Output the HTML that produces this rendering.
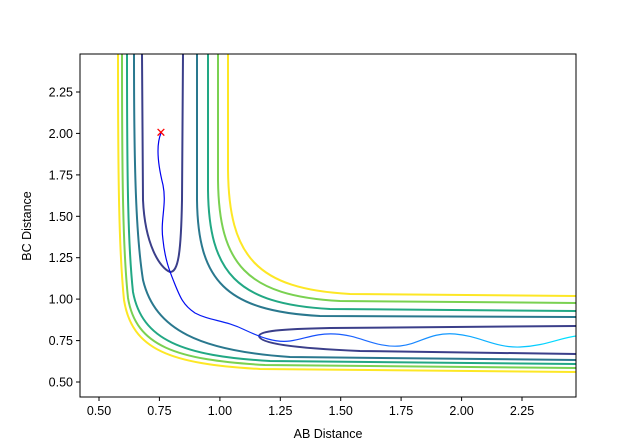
<!DOCTYPE html><html><head><style>body{margin:0;background:#fff}svg{display:block}text{font-family:"Liberation Sans","DejaVu Sans",sans-serif;font-size:12.5px;fill:#000}</style></head><body>
<svg width="640" height="447" viewBox="0 0 640 447" xmlns="http://www.w3.org/2000/svg">
<defs><linearGradient id="g" x1="160" y1="0" x2="576" y2="0" gradientUnits="userSpaceOnUse"><stop offset="0" stop-color="#0000ee"/><stop offset="0.5" stop-color="#1e6cff"/><stop offset="1" stop-color="#00e5ff"/></linearGradient>
<clipPath id="c"><rect x="80" y="54" width="496" height="343"/></clipPath></defs>
<g clip-path="url(#c)" fill="none" stroke-width="2">
<path d="M118 54 C118 180 119 250 124 300 C132 350 170 364 260 369 L576 372" stroke="#fde725"/>
<path d="M122 54 C122 180 123 250 128 298 C136 346 175 360 265 365 L576 368" stroke="#7ad151"/>
<path d="M127 54 C127 180 128 245 133 292 C142 340 182 356 270 361 L576 364" stroke="#22a884"/>
<path d="M134 54 C134 170 136 235 143 280 C155 330 200 351 290 357 L576 360" stroke="#2a788e"/>
<path d="M197 54 L197 200 C198 280 225 311 320 316 L576 317" stroke="#2a788e"/>
<path d="M208 54 L208 190 C209 272 236 304 330 309 L576 311" stroke="#22a884"/>
<path d="M218 54 L218 180 C219 264 246 296 340 301 L576 303" stroke="#7ad151"/>
<path d="M228 54 L228 170 C229 256 256 289 350 294 L576 296" stroke="#fde725"/>
<path d="M142 54 L143 200 C145 245 160 268 170 272 C178 272 181 255 182 200 L183 54" stroke="#3b3f8a"/>
<path d="M576 326 L330 328 C280 329 260 331 259 336 C260 343 290 348 360 351 L576 354" stroke="#3b3f8a"/>
<path d="M161 133 C156 145 158 165 163 185 C167 205 160 220 163 240 C165 260 170 272 174 282 C180 297 183 305 195 313 C210 321 225 320 245 330 C260 337 275 343 290 341 C305 339 315 333 335 334 C360 335 375 348 400 346 C420 344 430 332 455 334 C480 336 495 348 520 347 C545 346 560 338 576 336" stroke="url(#g)" stroke-width="1.2"/>
</g>
<text x="161" y="137" style="fill:#f00;font-size:13px" text-anchor="middle">✕</text>
<rect x="80" y="54" width="496" height="343" fill="none" stroke="#000" stroke-width="1"/>
<g stroke="#000">
<line x1="99" y1="397" x2="99" y2="401"/><line x1="159.4" y1="397" x2="159.4" y2="401"/><line x1="219.9" y1="397" x2="219.9" y2="401"/><line x1="280.3" y1="397" x2="280.3" y2="401"/><line x1="340.7" y1="397" x2="340.7" y2="401"/><line x1="401.1" y1="397" x2="401.1" y2="401"/><line x1="461.6" y1="397" x2="461.6" y2="401"/><line x1="522" y1="397" x2="522" y2="401"/>
<line x1="76" y1="382" x2="80" y2="382"/><line x1="76" y1="340.6" x2="80" y2="340.6"/><line x1="76" y1="299.1" x2="80" y2="299.1"/><line x1="76" y1="257.7" x2="80" y2="257.7"/><line x1="76" y1="216.3" x2="80" y2="216.3"/><line x1="76" y1="174.9" x2="80" y2="174.9"/><line x1="76" y1="133.4" x2="80" y2="133.4"/><line x1="76" y1="92" x2="80" y2="92"/>
</g>
<g text-anchor="middle">
<text x="99" y="415">0.50</text><text x="159.4" y="415">0.75</text><text x="219.9" y="415">1.00</text><text x="280.3" y="415">1.25</text><text x="340.7" y="415">1.50</text><text x="401.1" y="415">1.75</text><text x="461.6" y="415">2.00</text><text x="522" y="415">2.25</text>
<text x="328" y="438">AB Distance</text>
</g>
<g text-anchor="end">
<text x="73" y="386.5">0.50</text><text x="73" y="345">0.75</text><text x="73" y="303.6">1.00</text><text x="73" y="262.2">1.25</text><text x="73" y="220.8">1.50</text><text x="73" y="179.4">1.75</text><text x="73" y="137.9">2.00</text><text x="73" y="96.5">2.25</text>
</g>
<text x="31" y="226" text-anchor="middle" transform="rotate(-90 31 226)">BC Distance</text>
</svg></body></html>
